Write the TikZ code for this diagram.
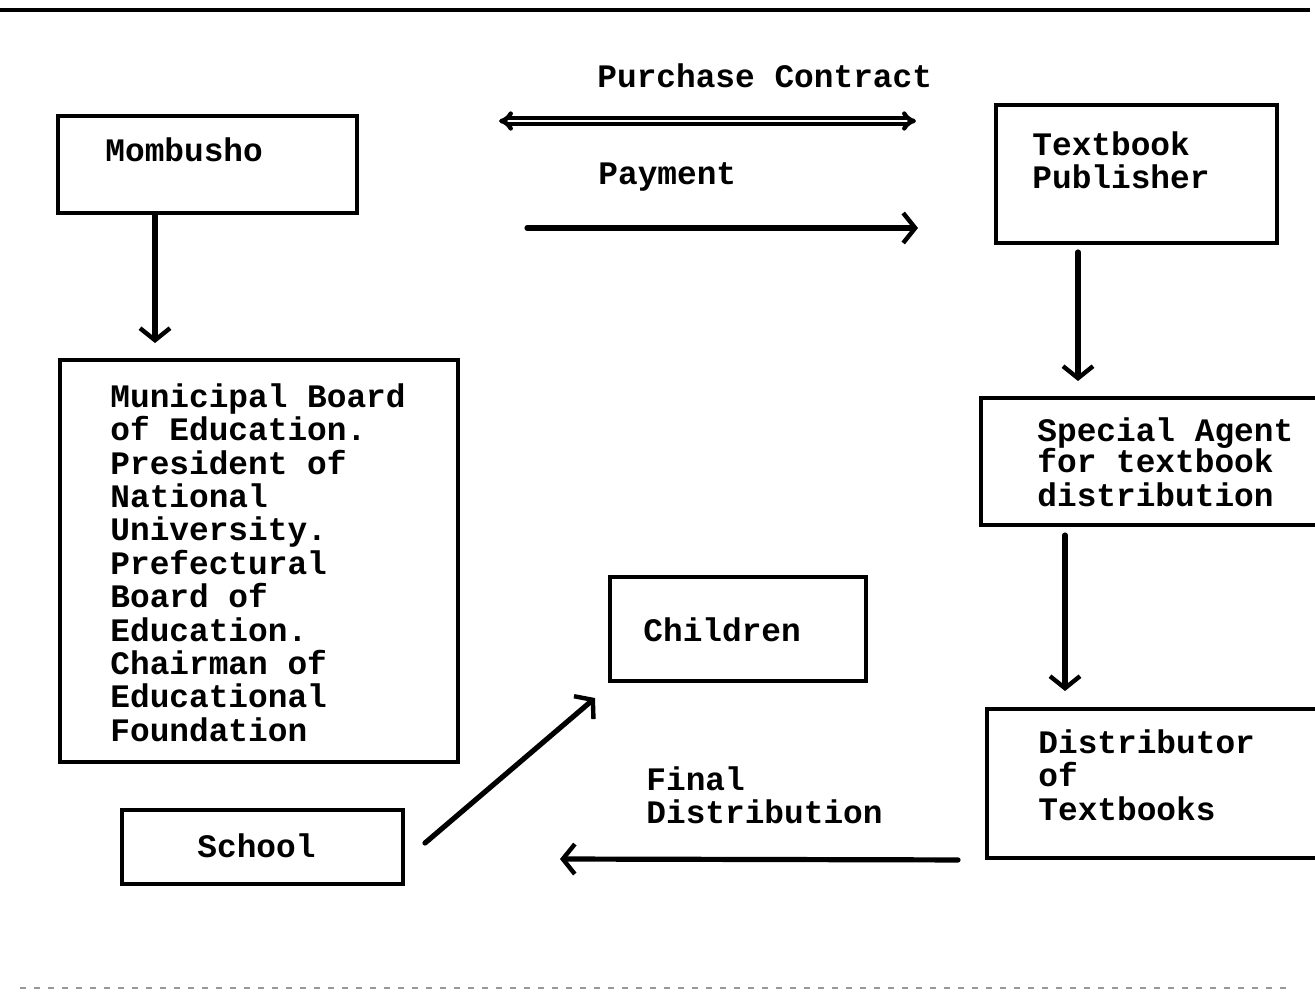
\documentclass[tikz,border=0pt]{standalone}
\usepackage{fontspec}
\usetikzlibrary{arrows.meta, positioning, calc}
\newfontfamily\typefont{Liberation Mono}

\begin{document}
\begin{tikzpicture}[
    x=0.5pt, y=-0.5pt,
    box/.style={rectangle, draw=black, line width=2pt, inner sep=0pt},
    txt/.style={anchor=west, align=left, inner sep=0pt, font=\typefont\bfseries\fontsize{16.4}{16.7}\selectfont},
    arrow/.style={line width=2.6pt, line cap=round, -{Straight Barb[length=6pt, width=15pt, line width=2.2pt]}},
    twoway/.style={line width=2.2pt, double=white, double distance=0.6pt, {Implies[length=7pt, width=14pt]}-{Implies[length=7pt, width=14pt]}}
]
\useasboundingbox (0,0) rectangle (1315,991);

% Rules of the page
\draw [line width=2pt] (0,10) -- (1310,10);
\draw [line width=0.6pt, black!40, dash pattern=on 3pt off 4pt] (20,988) -- (1290,988);

% Boxes
\node (mombusho) [box, minimum width=149.5pt, minimum height=48.5pt] at (207.5,164.5) {};
\node (publisher) [box, minimum width=140.5pt, minimum height=69pt] at (1136.5,174) {};
\node (municipal) [box, minimum width=199pt, minimum height=201pt] at (259,561) {};
\node (agent) [box, minimum width=168.5pt, minimum height=63.5pt] at (1149.5,461.5) {};
\node (distributor) [box, minimum width=165.5pt, minimum height=74.5pt] at (1152.5,783.5) {};
\node (children) [box, minimum width=128pt, minimum height=52pt] at (738,629) {};
\node (school) [box, minimum width=140.5pt, minimum height=37pt] at (262.5,847) {};

% Texts
\node (mombusho_txt) [txt] at (105,150) {Mombusho};
\node (publisher_txt) [txt] at (1032,160) {Textbook\\Publisher};
\node (municipal_txt) [txt] at (110,562.5) {Municipal Board\\of Education.\\President of\\National\\University.\\Prefectural\\Board of\\Education.\\Chairman of\\Educational\\Foundation};
\node (agent_txt) [txt] at (1037,462) {Special Agent\\[-1pt]for textbook\\distribution};
\node (distributor_txt) [txt] at (1038,775) {Distributor\\of\\Textbooks};
\node (children_txt) [txt] at (643,630) {Children};
\node (school_txt) [txt] at (197,846) {School};
\node (contract_txt) [txt] at (597,76) {Purchase Contract};
\node (payment_txt) [txt] at (598,177) {Payment};
\node (final_txt) [txt] at (646,795) {Final\\Distribution};

% Free ends
\coordinate (school_out) at (425,843);
\coordinate (children_in) at (595,698);
\coordinate (final_end) at (560,859);

% Arrows
\draw [twoway, shorten <=70pt, shorten >=39pt] ([yshift=-3.5pt]mombusho.north east) -- ([yshift=-3.5pt]mombusho.north east -| publisher.west);
\draw [arrow, shorten <=84pt, shorten >=38pt] ([yshift=-6.5pt]mombusho.south east) -- ([yshift=-6.5pt]mombusho.south east -| publisher.west);
\draw [arrow, shorten >=7.5pt] ([xshift=-26.25pt]mombusho.south) -- ([xshift=-26.25pt]mombusho.south |- municipal.north);
\draw [arrow, shorten <=3.5pt, shorten >=7.5pt] ([xshift=-29.25pt]publisher.south) -- ([xshift=-29.25pt]publisher.south |- agent.north);
\draw [arrow, shorten <=4pt, shorten >=8pt] ([xshift=-42.25pt]agent.south) -- ([xshift=-42.25pt]agent.south |- distributor.north);
\draw [arrow] (school_out) -- (children_in);
\draw [arrow, shorten <=13.5pt] (distributor.south west) -- (final_end);

\end{tikzpicture}
\end{document}
